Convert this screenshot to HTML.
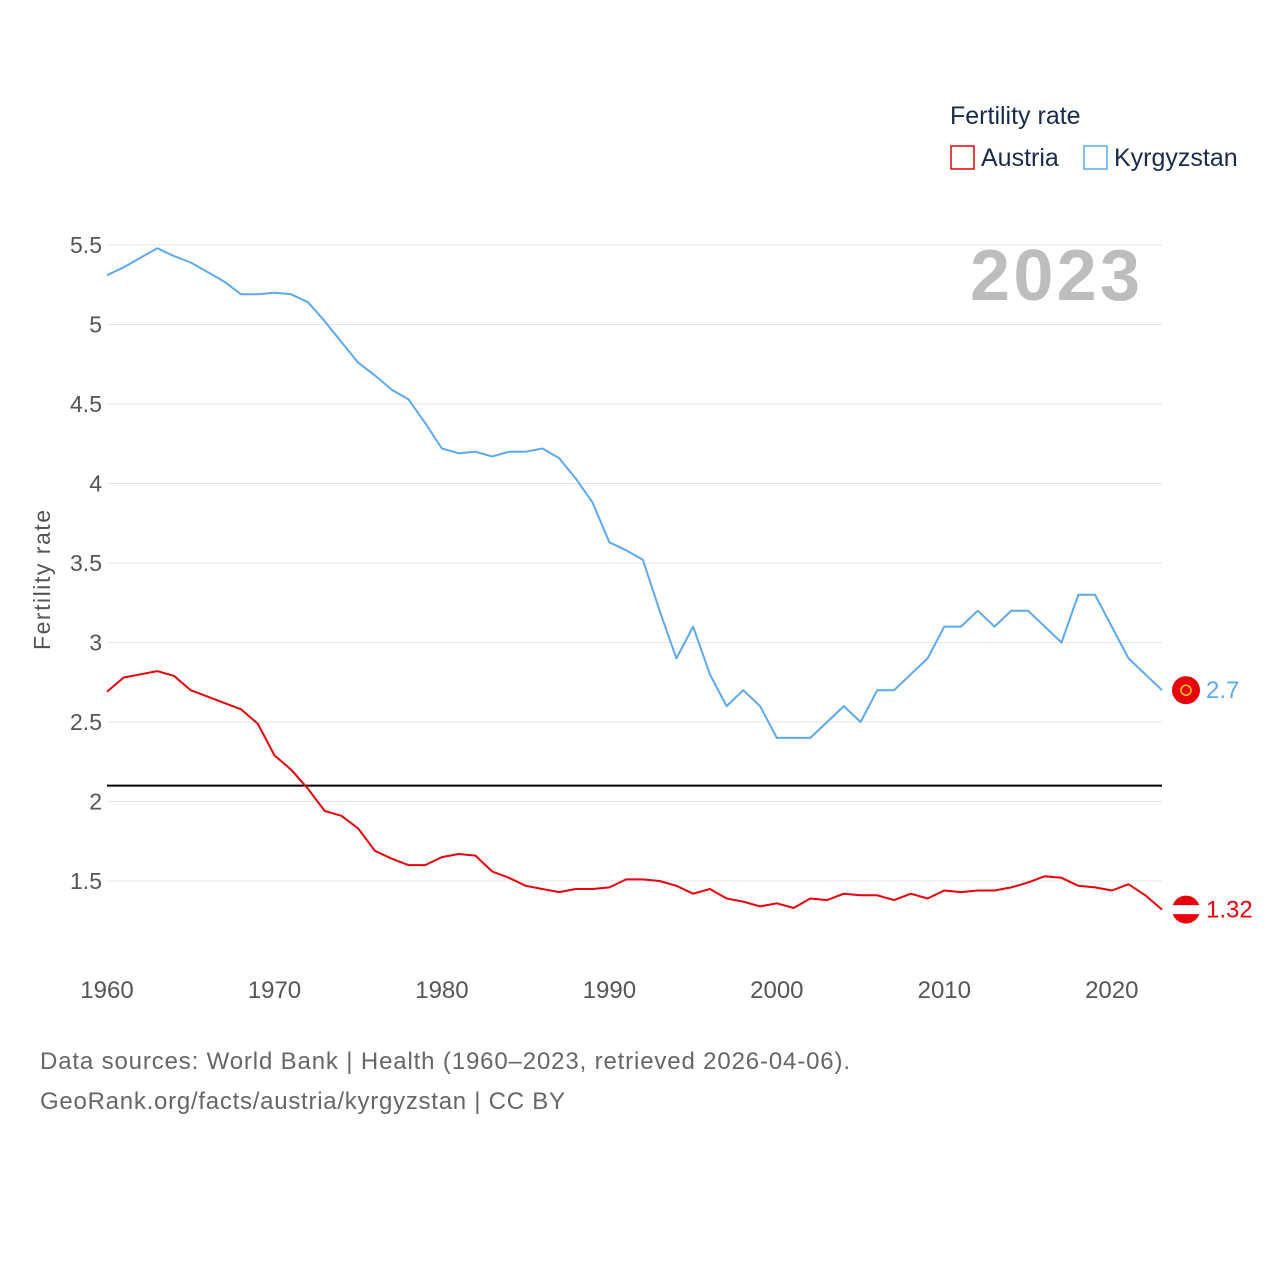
<!DOCTYPE html>
<html><head><meta charset="utf-8">
<style>
html,body{margin:0;padding:0;background:#fff;}
svg text{font-family:"Liberation Sans",sans-serif;}
</style></head>
<body>
<svg id="chart" width="1280" height="1280" viewBox="0 0 1280 1280" xmlns="http://www.w3.org/2000/svg">
  <rect width="1280" height="1280" fill="#fff"/>
  <g>
    <text x="950" y="124" font-size="25" fill="#1a2a4a">Fertility rate</text>
    <rect x="951" y="146" width="23" height="23" fill="none" stroke="#e8000b" stroke-width="1.5"/>
    <text x="981" y="166" font-size="25" fill="#1a2a4a">Austria</text>
    <rect x="1084" y="146" width="23" height="23" fill="none" stroke="#5ea9ee" stroke-width="1.5"/>
    <text x="1114" y="166" font-size="25" fill="#1a2a4a">Kyrgyzstan</text>
  </g>
  <text x="1140" y="300" font-size="72" font-weight="bold" fill="#bdbdbd" text-anchor="end" textLength="170">2023</text>
  <g id="grid"></g>
  <g id="yticks"></g>
  <g id="xticks"></g>
  <text transform="translate(50,580) rotate(-90)" font-size="23" fill="#555" text-anchor="middle" textLength="140">Fertility rate</text>
  <g id="series"></g>
  <text x="40" y="1069" font-size="24" fill="#666" textLength="810">Data sources: World Bank | Health (1960–2023, retrieved 2026-04-06).</text>
  <text x="40" y="1109" font-size="24" fill="#666" textLength="525">GeoRank.org/facts/austria/kyrgyzstan | CC BY</text>
</svg>
<script>
const years = [];
for (let y = 1960; y <= 2023; y++) years.push(y);
const kyrgyzstan = [5.31,5.36,5.42,5.48,5.43,5.39,5.33,5.27,5.19,5.19,5.2,5.19,5.14,5.02,4.89,4.76,4.68,4.59,4.53,4.38,4.22,4.19,4.2,4.17,4.2,4.2,4.22,4.16,4.03,3.88,3.63,3.58,3.52,3.2,2.9,3.1,2.8,2.6,2.7,2.6,2.4,2.4,2.4,2.5,2.6,2.5,2.7,2.7,2.8,2.9,3.1,3.1,3.2,3.1,3.2,3.2,3.1,3.0,3.3,3.3,3.1,2.9,2.8,2.7];
const austria = [2.69,2.78,2.8,2.82,2.79,2.7,2.66,2.62,2.58,2.49,2.29,2.2,2.08,1.94,1.91,1.83,1.69,1.64,1.6,1.6,1.65,1.67,1.66,1.56,1.52,1.47,1.45,1.43,1.45,1.45,1.46,1.51,1.51,1.5,1.47,1.42,1.45,1.39,1.37,1.34,1.36,1.33,1.39,1.38,1.42,1.41,1.41,1.38,1.42,1.39,1.44,1.43,1.44,1.44,1.46,1.49,1.53,1.52,1.47,1.46,1.44,1.48,1.41,1.32];
const yTicks = [1.5,2,2.5,3,3.5,4,4.5,5,5.5];
const xTicks = [1960,1970,1980,1990,2000,2010,2020];
const replacement = 2.1;

const NS = "http://www.w3.org/2000/svg";
const X = yr => 107 + (yr - 1960) * (1162 - 107) / 63;
const Y = v => 881 - (v - 1.5) * 159;
function el(tag, attrs, parent) {
  const e = document.createElementNS(NS, tag);
  for (const k in attrs) e.setAttribute(k, attrs[k]);
  parent.appendChild(e);
  return e;
}
const grid = document.getElementById('grid');
const yt = document.getElementById('yticks');
const xt = document.getElementById('xticks');
const series = document.getElementById('series');
yTicks.forEach(v => {
  const l = el('line', {x1:107, x2:1162, y1:Y(v), y2:Y(v), stroke:'#e6e6e6', 'stroke-width':1}, grid);
  
  
  const t = el('text', {x:102, y:Y(v)+8, 'font-size':23, fill:'#555', 'text-anchor':'end'}, yt);
  t.textContent = String(v);
  
  
});
xTicks.forEach(v => {
  const t = el('text', {x:X(v), y:998, 'font-size':24, fill:'#555', 'text-anchor':'middle'}, xt);
  t.textContent = String(v);
  
  
});
const ref = el('line', {x1:107, x2:1162, y1:Y(replacement), y2:Y(replacement), stroke:'#000', 'stroke-width':2}, series);


function drawLine(vals, color, name) {
  const d = vals.map((v,i) => (i ? 'L' : 'M') + X(years[i]).toFixed(1) + ',' + Y(v).toFixed(1)).join('');
  const p = el('path', {d:d, fill:'none', stroke:color, 'stroke-width':2, 'stroke-linejoin':'round'}, series);
  
  
  const last = vals[vals.length-1];
  const c = el('circle', {cx:1186, cy:Y(last), r:14, fill:'#e8000b'}, series);
  
  
  if (name === 'austria') {
    const w = el('rect', {x:1172, y:Y(last)-4.5, width:28, height:9, fill:'#fff'}, series);
    
    
  } else {
    const s = el('circle', {cx:1186, cy:Y(last), r:5, fill:'none', stroke:'#ffd700', 'stroke-width':1.5}, series);
    
    
  }
  const t = el('text', {x:1206, y:Y(last)+8, 'font-size':24, fill:color}, series);
  t.textContent = String(last);
  
  
}
drawLine(kyrgyzstan, '#5ea9ee', 'kyrgyzstan');
drawLine(austria, '#e8000b', 'austria');
</script>
</body></html>
